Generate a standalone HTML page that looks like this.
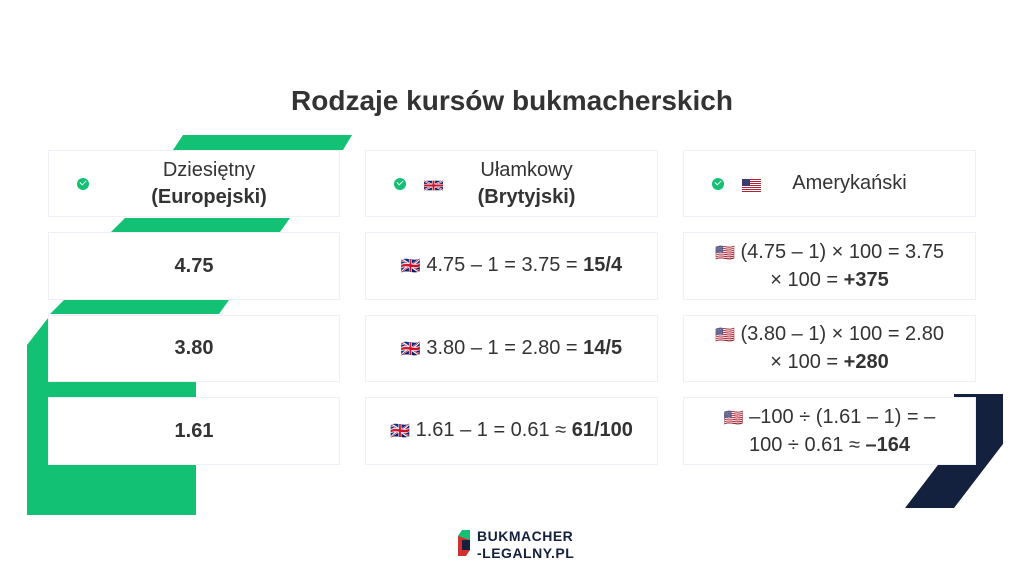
<!DOCTYPE html>
<html><head><meta charset="utf-8"><style>
body{margin:0;width:1024px;height:576px;background:#fff;position:relative;overflow:hidden;font-family:"Liberation Sans",sans-serif;color:#333}
.a{position:absolute}
.box{position:absolute;background:#fff;border:1px solid #eef0f5;box-sizing:border-box;display:flex;align-items:center;justify-content:center;text-align:center;font-size:20px;line-height:27px;color:#333}
b{font-weight:bold}
.chk{display:inline-block;width:12px;height:12px;border-radius:50%;background:#12c173;position:absolute;top:50%;margin-top:-6px}
.chk:after{content:"";position:absolute;left:3px;top:2.5px;width:5px;height:3px;border-left:1.6px solid #fff;border-bottom:1.6px solid #fff;transform:rotate(-45deg)}
svg.f{width:19px;height:13px}
.e{font-size:16px}
</style></head><body>
<svg class="a" style="left:0;top:0" width="1024" height="576">
<polygon points="183,135 352,135 343,150 173,150" fill="#12c173"/>
<polygon points="125,218 290,218 280,232 111,232" fill="#12c173"/>
<polygon points="64,300 229,300 219,314 50,314" fill="#12c173"/>
<polygon points="27,345 48,318 48,515 27,515" fill="#12c173"/>
<rect x="48" y="382" width="148" height="16" fill="#12c173"/>
<rect x="27" y="465" width="169" height="50" fill="#12c173"/>
<polygon points="954,394 1003,394 1003,444 954,508 905,508 954,444" fill="#13213f"/>
<g transform="translate(458,530)">
<polygon points="4,0 12,0 12,10 4,10 0,6" fill="#12c173"/>
<polygon points="0,6 12,10 12,20 8,26 0,26" fill="#d32f2f"/>
<polygon points="4,10 12,10 12,20 4,20" fill="#13213f"/>
</g>
</svg>
<div class="a" style="left:0;width:1024px;top:85px;text-align:center;font-size:28px;font-weight:bold;color:#333">Rodzaje kursów bukmacherskich</div>
<div class="a" style="left:477px;top:528px;font-size:14px;font-weight:bold;color:#13213f;line-height:17px;letter-spacing:0.5px">BUKMACHER<br>-LEGALNY.PL</div>

<div class="box" style="left:48px;top:150px;width:292px;height:67px"><span class="chk" style="left:28px"></span><div style="margin-left:30px">Dziesiętny<br><b>(Europejski)</b></div></div>
<div class="box" style="left:365px;top:150px;width:293px;height:67px"><span class="chk" style="left:28px"></span><svg class="f a" style="left:58px;top:28px" viewBox="0 0 60 30"><rect width="60" height="30" fill="#012169"/><path d="M0,0 60,30M60,0 0,30" stroke="#fff" stroke-width="6"/><path d="M0,0 60,30M60,0 0,30" stroke="#C8102E" stroke-width="2"/><path d="M30,0V30M0,15H60" stroke="#fff" stroke-width="10"/><path d="M30,0V30M0,15H60" stroke="#C8102E" stroke-width="6"/></svg><div style="margin-left:30px">Ułamkowy<br><b>(Brytyjski)</b></div></div>
<div class="box" style="left:683px;top:150px;width:293px;height:67px"><span class="chk" style="left:28px"></span><svg class="f a" style="left:58px;top:28px" viewBox="0 0 19 13"><rect width="19" height="13" fill="#b22234"/><g fill="#fff"><rect y="1" width="19" height="1"/><rect y="3" width="19" height="1"/><rect y="5" width="19" height="1"/><rect y="7" width="19" height="1"/><rect y="9" width="19" height="1"/><rect y="11" width="19" height="1"/></g><rect width="8" height="7" fill="#3c3b6e"/></svg><div style="margin-left:40px">Amerykański</div></div>

<div class="box" style="left:48px;top:232px;width:292px;height:68px"><b>4.75</b></div>
<div class="box" style="left:48px;top:315px;width:292px;height:67px"><b>3.80</b></div>
<div class="box" style="left:48px;top:397px;width:292px;height:68px"><b>1.61</b></div>

<div class="box" style="left:365px;top:232px;width:293px;height:68px"><div><span class="e">🇬🇧</span> 4.75 – 1 = 3.75 = <b>15/4</b></div></div>
<div class="box" style="left:365px;top:315px;width:293px;height:67px"><div><span class="e">🇬🇧</span> 3.80 – 1 = 2.80 = <b>14/5</b></div></div>
<div class="box" style="left:365px;top:397px;width:293px;height:68px"><div><span class="e">🇬🇧</span> 1.61 – 1 = 0.61 ≈ <b>61/100</b></div></div>

<div class="box" style="left:683px;top:232px;width:293px;height:68px"><div><span class="e">🇺🇸</span> (4.75 – 1) × 100 = 3.75<br>× 100 = <b>+375</b></div></div>
<div class="box" style="left:683px;top:315px;width:293px;height:67px"><div><span class="e">🇺🇸</span> (3.80 – 1) × 100 = 2.80<br>× 100 = <b>+280</b></div></div>
<div class="box" style="left:683px;top:397px;width:293px;height:68px"><div><span class="e">🇺🇸</span> –100 ÷ (1.61 – 1) = –<br>100 ÷ 0.61 ≈ <b>–164</b></div></div>
</body></html>
